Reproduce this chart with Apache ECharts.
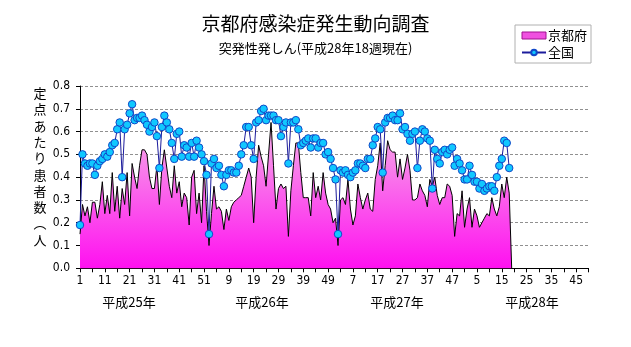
<!DOCTYPE html>
<html>
<head>
<meta charset="utf-8">
<title>京都府感染症発生動向調査</title>
<script src="https://cdn.jsdelivr.net/npm/echarts/dist/echarts.min.js"></script>
<style>
  html, body { margin: 0; padding: 0; background: #ffffff; }
  #chart { width: 631px; height: 347px; }
</style>
</head>
<body>
<div id="chart"></div>
<script>
// Year captions under the week axis and the number of weeks shown for each year
const yearNames = ['平成25年', '平成26年', '平成27年', '平成28年'];
const weeksPerYear = [52, 52, 52, 50];

// Y axis ticks (cases per sentinel site)
const yTicks = [0.0, 0.1, 0.2, 0.3, 0.4, 0.5, 0.6, 0.7, 0.8];

// 京都府: weekly cases per sentinel site, 平成25年 week 1 onward (ends at 平成28年 week 18, then blank = 0)
const kyoto = [
  0.15, 0.28, 0.23, 0.27, 0.20, 0.29, 0.29, 0.22, 0.28, 0.38,
  0.24, 0.32, 0.24, 0.42, 0.25, 0.36, 0.22, 0.35, 0.28, 0.42,
  0.23, 0.46, 0.40, 0.35, 0.45, 0.52, 0.52, 0.50, 0.40, 0.35,
  0.35, 0.45, 0.28, 0.44, 0.52, 0.44, 0.36, 0.31, 0.45, 0.33,
  0.38, 0.27, 0.33, 0.31, 0.19, 0.40, 0.43, 0.24, 0.33, 0.20,
  0.45, 0.25, 0.10, 0.24, 0.36, 0.26, 0.27, 0.25, 0.17, 0.26,
  0.21, 0.27, 0.29, 0.30, 0.31, 0.32, 0.36, 0.40, 0.44, 0.40,
  0.20, 0.40, 0.54, 0.49, 0.45, 0.36, 0.50, 0.64, 0.45, 0.26,
  0.35, 0.37, 0.35, 0.36, 0.14, 0.34, 0.45, 0.55, 0.55, 0.42,
  0.31, 0.31, 0.31, 0.23, 0.42, 0.31, 0.36, 0.30, 0.42, 0.33,
  0.28, 0.26, 0.20, 0.22, 0.10, 0.30, 0.31, 0.28, 0.39, 0.26,
  0.19, 0.23, 0.37, 0.31, 0.26, 0.30, 0.33, 0.26, 0.25, 0.39,
  0.45, 0.55, 0.34, 0.45, 0.56, 0.52, 0.51, 0.51, 0.40, 0.48,
  0.39, 0.44, 0.50, 0.43, 0.30, 0.30, 0.31, 0.37, 0.34, 0.32,
  0.27, 0.39, 0.36, 0.40, 0.32, 0.28, 0.31, 0.31, 0.37, 0.36,
  0.32, 0.14, 0.24, 0.23, 0.34, 0.18, 0.26, 0.31, 0.18, 0.26,
  0.23, 0.18, 0.20, 0.22, 0.24, 0.23, 0.31, 0.26, 0.23, 0.27,
  0.37, 0.31, 0.40, 0.33, 0.00
];

// 全国: weekly cases per sentinel site, 平成25年 week 1 to 平成28年 week 18
const national = [
  0.19, 0.50, 0.46, 0.45, 0.46, 0.46, 0.41, 0.45, 0.47, 0.48,
  0.50, 0.49, 0.51, 0.54, 0.55, 0.61, 0.64, 0.40, 0.61, 0.63,
  0.68, 0.72, 0.65, 0.66, 0.66, 0.67, 0.65, 0.63, 0.60, 0.62,
  0.64, 0.58, 0.44, 0.62, 0.67, 0.64, 0.61, 0.55, 0.48, 0.59,
  0.60, 0.49, 0.54, 0.53, 0.49, 0.55, 0.49, 0.56, 0.53, 0.50,
  0.47, 0.41, 0.15, 0.46, 0.48, 0.44, 0.45, 0.41, 0.36, 0.41,
  0.43, 0.43, 0.42, 0.42, 0.45, 0.50, 0.54, 0.62, 0.62, 0.54,
  0.48, 0.64, 0.65, 0.69, 0.70, 0.65, 0.67, 0.67, 0.67, 0.65,
  0.65, 0.58, 0.62, 0.64, 0.46, 0.64, 0.64, 0.65, 0.61, 0.54,
  0.55, 0.56, 0.57, 0.53, 0.57, 0.57, 0.53, 0.55, 0.55, 0.50,
  0.51, 0.48, 0.44, 0.39, 0.15, 0.43, 0.42, 0.43, 0.41, 0.40,
  0.42, 0.43, 0.46, 0.46, 0.45, 0.44, 0.48, 0.48, 0.54, 0.57,
  0.62, 0.61, 0.42, 0.64, 0.66, 0.66, 0.67, 0.65, 0.65, 0.68,
  0.61, 0.62, 0.59, 0.56, 0.59, 0.60, 0.44, 0.56, 0.61, 0.60,
  0.57, 0.56, 0.35, 0.52, 0.48, 0.46, 0.51, 0.52, 0.50, 0.52,
  0.53, 0.45, 0.48, 0.46, 0.43, 0.39, 0.39, 0.45, 0.41, 0.38,
  0.38, 0.35, 0.37, 0.34, 0.35, 0.36, 0.36, 0.34, 0.40, 0.45,
  0.48, 0.56, 0.55, 0.44
];

// Week-number categories across the four years
const weekLabels = [];
weeksPerYear.forEach(n => { for (let w = 1; w <= n; w++) weekLabels.push(String(w)); });

const numFont = "'Liberation Sans Narrow', 'DejaVu Sans Condensed', 'Noto Sans CJK JP', sans-serif";
const jpFont = "'Noto Sans CJK JP', 'Noto Sans', sans-serif";

const pinkFill = new echarts.graphic.LinearGradient(0, 0, 0, 1, [
  { offset: 0, color: '#f6b0e8' },
  { offset: 1, color: '#ff10f0' }
]);

const chart = echarts.init(document.getElementById('chart'), null, { renderer: 'canvas' });

const grid = { left: 80, top: 86, width: 508.6, height: 182.3 };

// Year captions centred under each year's span of weeks
const yearCenters = [129, 262, 397, 532];
const yearGraphics = yearNames.map((t, i) => ({
  type: 'text',
  x: yearCenters[i],
  y: 302,
  style: { text: t, font: '13px ' + jpFont, fill: '#000', align: 'center', verticalAlign: 'middle' }
}));

// Vertical axis caption, one character per line
const yCaption = {
  type: 'text',
  x: 40,
  y: 85,
  style: {
    text: ['定', '点', 'あ', 'た', 'り', '患', '者', '数', '︵', '人'].join('\n'),
    font: '13px ' + jpFont,
    lineHeight: 16.3,
    fill: '#000',
    align: 'center',
    verticalAlign: 'top'
  }
};

chart.setOption({
  animation: false,
  backgroundColor: '#ffffff',
  title: {
    text: '京都府感染症発生動向調査',
    subtext: '突発性発しん(平成28年18週現在)',
    left: 'center',
    top: 9,
    itemGap: 9,
    textStyle: { fontFamily: jpFont, fontSize: 19, fontWeight: 'normal', color: '#000' },
    subtextStyle: { fontFamily: jpFont, fontSize: 13, color: '#000' }
  },
  legend: {
    orient: 'vertical',
    left: 515,
    top: 25,
    width: 76,
    padding: [4, 4, 4, 6],
    itemGap: 4,
    itemWidth: 24,
    itemHeight: 7,
    borderColor: '#b0b0b0',
    borderWidth: 1,
    textStyle: { fontFamily: jpFont, fontSize: 13, color: '#000', padding: [0, 0, 0, -3] },
    data: [
      { name: '京都府', icon: 'rect', itemStyle: { color: '#f050e0', borderColor: '#a01090', borderWidth: 1 } },
      { name: '全国' }
    ]
  },
  grid: grid,
  xAxis: {
    type: 'category',
    boundaryGap: false,
    data: weekLabels,
    axisLine: { lineStyle: { color: '#000', width: 1 } },
    axisTick: {
      inside: false, length: 4,
      interval: (i) => i % 5 === 0,
      lineStyle: { color: '#000' }
    },
    axisLabel: {
      interval: (i) => i % 10 === 0,
      fontFamily: numFont, fontSize: 12, color: '#000', margin: 7
    },
    splitLine: { show: false }
  },
  yAxis: {
    type: 'value',
    min: yTicks[0],
    max: yTicks[yTicks.length - 1],
    interval: 0.1,
    axisLine: { show: true, lineStyle: { color: '#000', width: 1 } },
    axisTick: { show: true, length: 4, lineStyle: { color: '#000' } },
    axisLabel: {
      formatter: (v) => v.toFixed(1),
      fontFamily: numFont, fontSize: 12, color: '#000', margin: 10
    },
    splitLine: { show: true, lineStyle: { color: '#909090', type: [3, 2], width: 1 } }
  },
  series: [
    {
      name: '京都府',
      type: 'line',
      data: kyoto,
      symbol: 'none',
      lineStyle: { color: '#000', width: 1 },
      areaStyle: { color: pinkFill, opacity: 1 },
      itemStyle: { color: '#f050e0' },
      z: 2
    },
    {
      name: '全国',
      type: 'line',
      data: national,
      symbol: 'circle',
      symbolSize: 7.5,
      showAllSymbol: true,
      lineStyle: { color: '#1c1c9c', width: 1 },
      itemStyle: { color: '#10c8ff', borderColor: '#1048c8', borderWidth: 1 },
      z: 3
    }
  ],
  graphic: yearGraphics.concat([yCaption])
});
</script>
</body>
</html>
